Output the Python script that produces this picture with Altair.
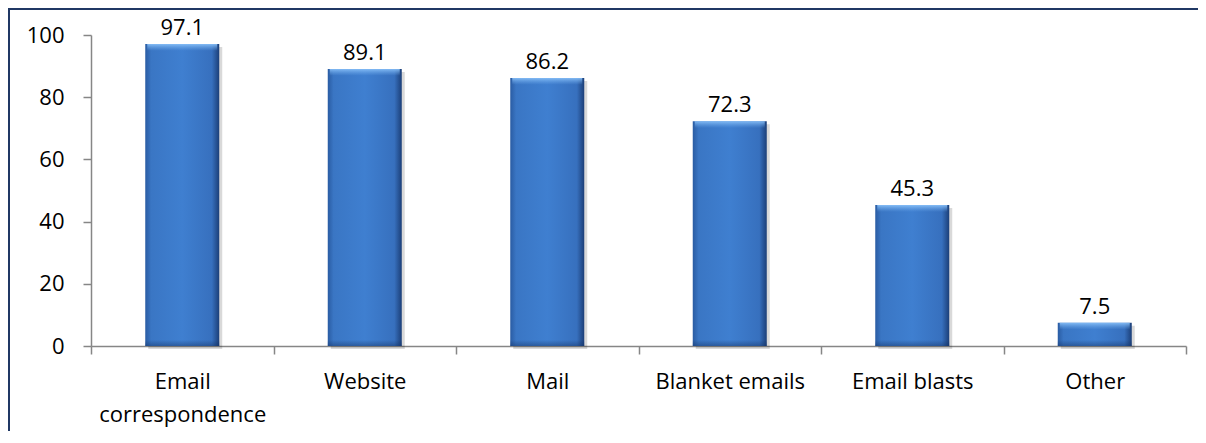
import altair as alt
import pandas as pd

categories = ["Email correspondence", "Website", "Mail", "Blanket emails", "Email blasts", "Other"]
values = [97.1, 89.1, 86.2, 72.3, 45.3, 7.5]
y_ticks = [0, 20, 40, 60, 80, 100]

df = pd.DataFrame({"cat": categories, "val": values})

W, H = 1095, 311
PL, PT, PR, PB = 83, 27, 12, 85
FONT = "Open Sans"
FS = 22
BAR_W = 74

x = alt.X(
    "cat:N", sort=categories,
    scale=alt.Scale(paddingInner=0, paddingOuter=0),
    axis=alt.Axis(
        title=None, labelAngle=0, tickBand="extent", tickSize=8,
        labelExpr="datum.label == 'Email correspondence' ? ['Email', 'correspondence'] : datum.label",
        labelBaseline="alphabetic", labelPadding=34, labelLineHeight=33,
    ),
)
y = alt.Y(
    "val:Q",
    scale=alt.Scale(domain=[0, 100], nice=False),
    axis=alt.Axis(title=None, values=y_ticks, tickSize=8, labelPadding=19, grid=False),
)

base = alt.Chart(df)

shadow = base.mark_bar(size=BAR_W, xOffset=3, yOffset=3, y2Offset=3, color="#000000", opacity=0.15).encode(
    x=x, y=y, y2=alt.value(H)
)

main_grad = alt.Gradient(
    gradient="linear", x1=0, x2=1, y1=0, y2=0,
    stops=[
        alt.GradientStop(color="#2A5CA3", offset=0),
        alt.GradientStop(color="#3A76C4", offset=0.08),
        alt.GradientStop(color="#3F7FD0", offset=0.5),
        alt.GradientStop(color="#3770BE", offset=0.9),
        alt.GradientStop(color="#1C3F78", offset=1),
    ],
)
bars = base.mark_bar(size=BAR_W, color=main_grad).encode(x=x, y=y)

top_grad = alt.Gradient(
    gradient="linear", x1=0, x2=0, y1=0, y2=1,
    stops=[
        alt.GradientStop(color="rgba(140,195,250,0.9)", offset=0),
        alt.GradientStop(color="rgba(110,170,235,0.0)", offset=1),
    ],
)
bevel = base.transform_calculate(top2="datum.val - 2.2").mark_bar(size=BAR_W - 4, color=top_grad).encode(
    x=x, y=y, y2="top2:Q"
)

bot_grad = alt.Gradient(
    gradient="linear", x1=0, x2=0, y1=0, y2=1,
    stops=[
        alt.GradientStop(color="rgba(20,50,100,0.0)", offset=0),
        alt.GradientStop(color="rgba(20,50,100,0.45)", offset=1),
    ],
)
bottom = base.mark_bar(size=BAR_W, color=bot_grad).encode(
    x=x, y=alt.value(H - 6), y2=alt.value(H)
)

labels = base.mark_text(dy=-9, baseline="alphabetic", fontSize=FS, font=FONT, color="#000000").encode(
    x=x, y=y, text=alt.Text("val:Q", format=".1f")
)

border_left = base.mark_rule(color="#203864", strokeWidth=2).encode(
    x=alt.value(-82), y=alt.value(-PT), y2=alt.value(H + PB)
)
border_top = base.mark_rule(color="#203864", strokeWidth=2).encode(
    x=alt.value(-PL), x2=alt.value(W + PR), y=alt.value(-PT + 1)
)

chart = alt.layer(shadow, bars, bevel, bottom, labels, border_left, border_top).properties(
    width=W, height=H,
    autosize=alt.AutoSizeParams(type="none"),
    padding={"left": PL, "top": PT, "right": PR, "bottom": PB},
).configure_axis(
    domainColor="#868686", tickColor="#868686", domainWidth=1.5, tickWidth=1.5,
    labelFont=FONT, labelFontSize=FS, labelColor="#000000",
).configure_view(stroke=None)

chart.save("out.html", embed_options={"renderer": "svg", "actions": False})
